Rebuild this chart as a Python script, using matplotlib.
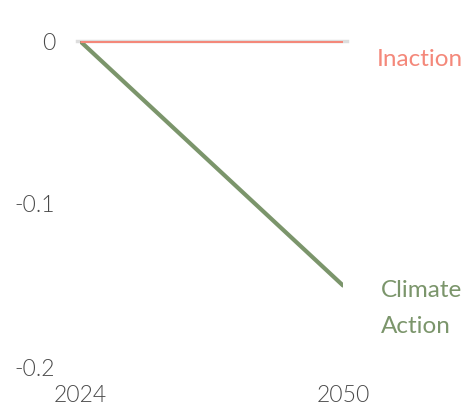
import matplotlib
matplotlib.use("Agg")
import matplotlib.pyplot as plt

years = [2024, 2050]
inaction = [0.0, 0.0]
climate_action = [0.0, -0.15]
y_ticks = [0, -0.1, -0.2]
y_tick_labels = ["0", "-0.1", "-0.2"]

RED = "#f4887a"
GREEN = "#7b956b"
TICK = "#4a4a4a"

plt.rcParams["font.family"] = ["Lato", "DejaVu Sans"]

fig = plt.figure(figsize=(4.65, 4.05), dpi=100)
ax = fig.add_axes([80 / 465, 38 / 405, 263 / 465, 326 / 405])

ax.axhline(0, xmin=-0.01, xmax=1.015, color="#dddddd", lw=2.5, clip_on=False, zorder=1)
ax.plot(years, inaction, color=RED, lw=2.2, solid_capstyle="butt", zorder=3)
ax.plot(years, climate_action, color=GREEN, lw=3, solid_capstyle="round", zorder=2)

ax.set_xlim(2024, 2050)
ax.set_ylim(-0.2, 0)
ax.set_xticks(years)
ax.set_xticklabels([str(y) for y in years])
ax.set_yticks(y_ticks)
ax.set_yticklabels(y_tick_labels)
ax.tick_params(length=0, labelsize=16.5, labelcolor=TICK)
ax.tick_params(axis="y", pad=18)
ax.tick_params(axis="x", pad=13)
for lbl in ax.get_xticklabels() + ax.get_yticklabels():
    lbl.set_fontweight(300)
for s in ax.spines.values():
    s.set_visible(False)

ax.annotate("Inaction", xy=(years[-1], inaction[-1]), xytext=(24, -13),
            textcoords="offset points", ha="left", va="center",
            color=RED, fontsize=17.5)
ax.annotate("Climate\nAction", xy=(years[-1], climate_action[-1]), xytext=(27, -16.5),
            textcoords="offset points", ha="left", va="center",
            color=GREEN, fontsize=17.5, linespacing=1.85)

fig.savefig("out.png", dpi=100)
